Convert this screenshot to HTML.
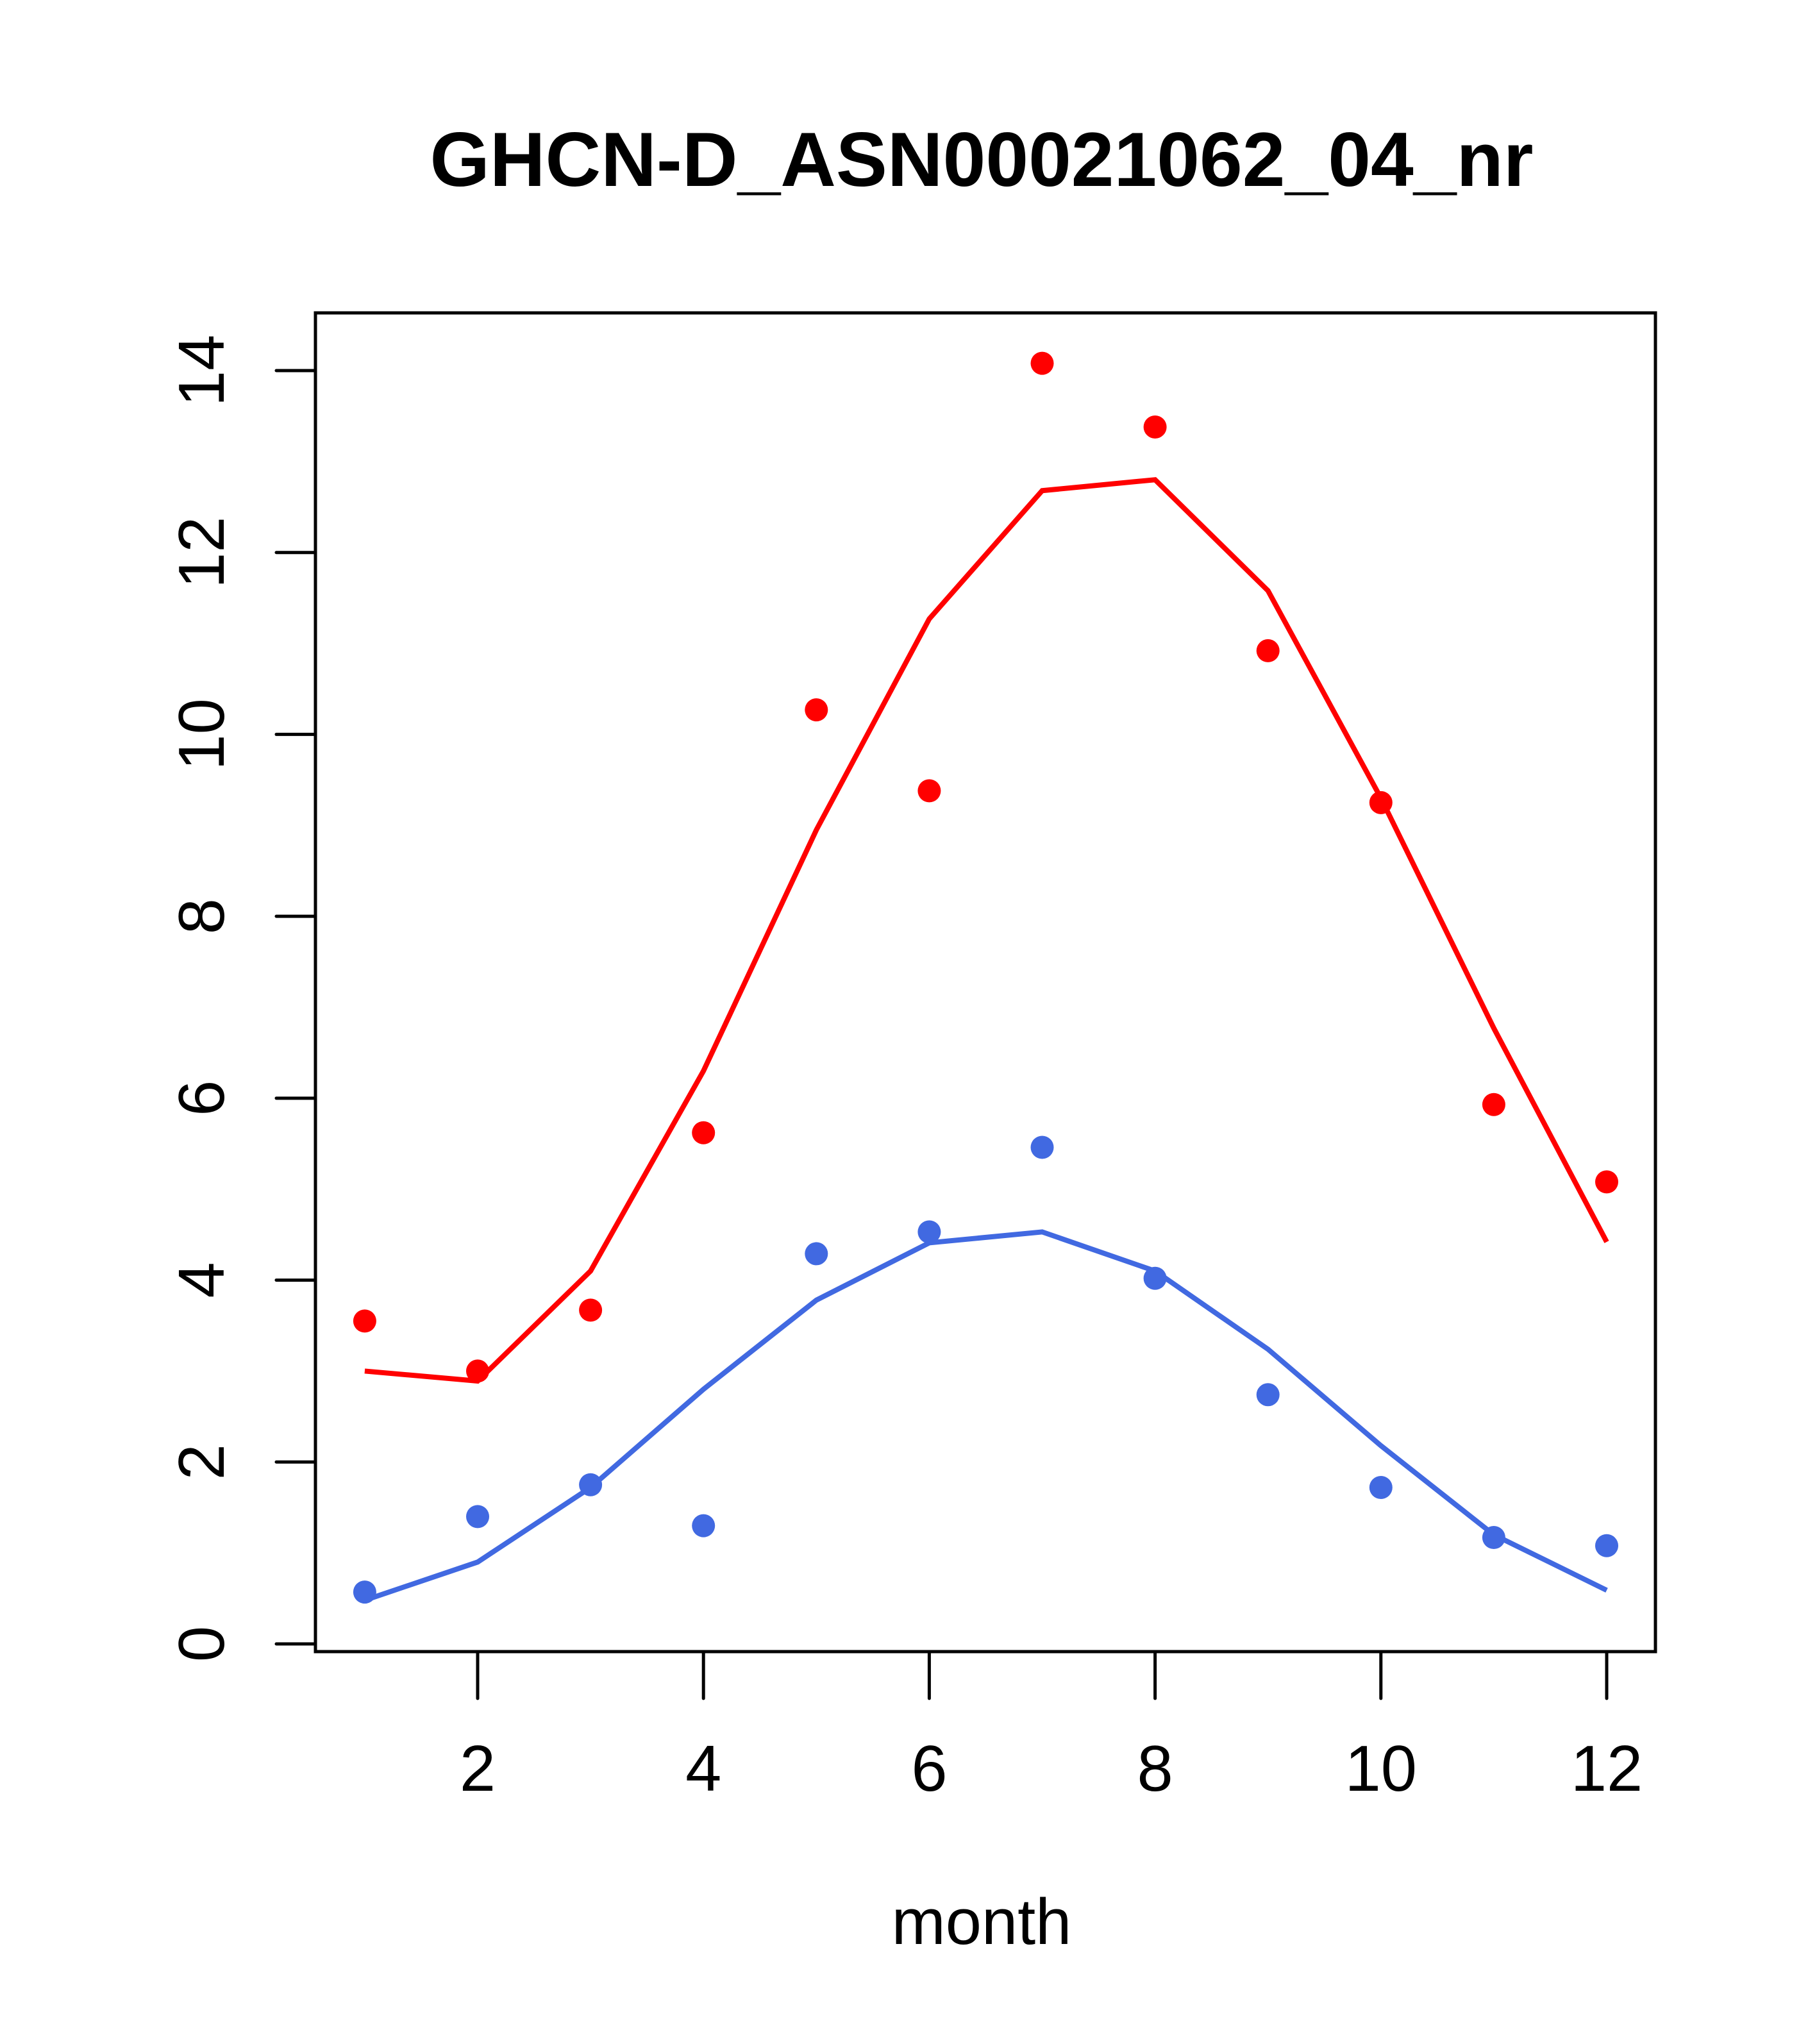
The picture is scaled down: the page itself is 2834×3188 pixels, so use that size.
<!DOCTYPE html>
<html><head><meta charset="utf-8"><style>
html,body{margin:0;padding:0;background:#fff;}
svg{display:block;}
text{font-family:"Liberation Sans",sans-serif;fill:#000;}
</style></head><body>
<svg id="chart" width="2834" height="3188" viewBox="0 0 2834 3188" xmlns="http://www.w3.org/2000/svg">
<rect width="2834" height="3188" fill="#fff"/>
<text x="1531" y="290" font-size="120" font-weight="bold" text-anchor="middle">GHCN-D_ASN00021062_04_nr</text>
<text x="1531" y="3032" font-size="101" text-anchor="middle">month</text>
<g id="axes"></g>
<g id="series"></g>
<rect x="492" y="488" width="2090" height="2088" fill="none" stroke="#000" stroke-width="5"/>
</svg>
<script>
const months = [1,2,3,4,5,6,7,8,9,10,11,12];
const redPoints = [3.55,3.0,3.67,5.62,10.27,9.38,14.08,13.38,10.92,9.25,5.93,5.08];
const redLine = [3.0,2.89,4.1,6.3,8.95,11.27,12.68,12.8,11.58,9.3,6.77,4.42];
const bluePoints = [0.57,1.4,1.75,1.3,4.29,4.53,5.46,4.02,2.74,1.72,1.17,1.08];
const blueLine = [0.48,0.9,1.72,2.8,3.78,4.41,4.53,4.1,3.24,2.18,1.2,0.59];
const xTicks = [2,4,6,8,10,12];
const yTicks = [0,2,4,6,8,10,12,14];

const NS = "http://www.w3.org/2000/svg";
function xs(v){ return 745 + (v-2)*(2506-745)/10; }
function ys(v){ return 2564 - v*(2564-578)/14; }
function mk(tag, attrs, parent){ const e=document.createElementNS(NS,tag); for(const k in attrs) e.setAttribute(k,attrs[k]); parent.appendChild(e); return e; }

const axes=document.getElementById('axes');
xTicks.forEach(t=>{
  const l=mk('line',{x1:xs(t),x2:xs(t),y1:2576,y2:2649,stroke:'#000','stroke-width':5,'stroke-linecap':'round'},axes);
  
  
  const tx=mk('text',{x:xs(t),y:2793,'font-size':101,'text-anchor':'middle'},axes);
  tx.textContent=t;
  
  
});
yTicks.forEach(t=>{
  const l=mk('line',{x1:431,x2:492,y1:ys(t),y2:ys(t),stroke:'#000','stroke-width':5,'stroke-linecap':'round'},axes);
  
  
  const tx=mk('text',{x:0,y:0,'font-size':101,'text-anchor':'middle',transform:'translate(349,'+ys(t)+') rotate(-90)'},axes);
  tx.textContent=t;
  
  
});

const series=document.getElementById('series');
function drawLine(vals,color,name){
  const p=mk('polyline',{points:months.map((m,i)=>xs(m)+','+ys(vals[i])).join(' '),fill:'none',stroke:color,'stroke-width':8}, series);
  
  
}
function drawPts(vals,color,name){
  months.forEach((m,i)=>{
    const c=mk('circle',{cx:xs(m),cy:ys(vals[i]),r:18,fill:color},series);
    
    
  });
}
drawLine(redLine,'#ff0000','red-fit-line');
drawLine(blueLine,'#4169e1','blue-fit-line');
drawPts(redPoints,'#ff0000','red-point');
drawPts(bluePoints,'#4169e1','blue-point');
</script>
</body></html>
